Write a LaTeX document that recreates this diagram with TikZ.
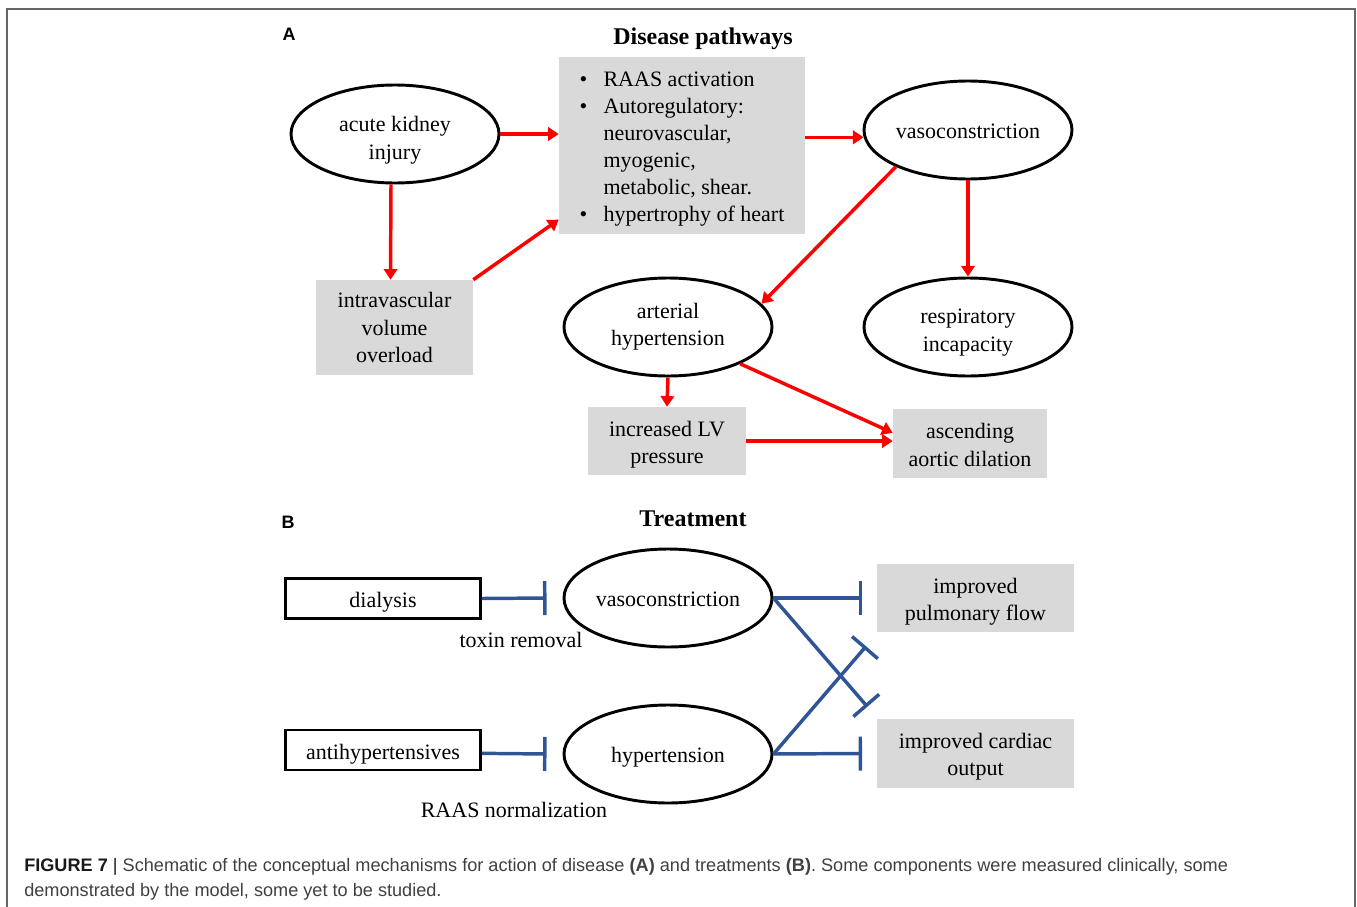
\documentclass[tikz,border=0pt]{standalone}
\usepackage{fontspec}
\setmainfont{Liberation Serif}
\setsansfont{Liberation Sans}
\usetikzlibrary{arrows.meta,shapes.geometric}

\definecolor{boxgray}{HTML}{D9D9D9}
\definecolor{inhblue}{HTML}{2F5597}
\definecolor{capgray}{HTML}{404040}

\begin{document}
\begin{tikzpicture}[
    x=0.75pt, y=-0.75pt,
    every node/.style={font=\fontsize{16.5}{20.5}\selectfont},
    state/.style={ellipse, draw, line width=2.2pt, minimum width=156pt, minimum height=73.5pt, inner sep=0pt, align=center},
    graybox/.style={rectangle, fill=boxgray, inner sep=0pt, align=center},
    drugbox/.style={rectangle, draw, line width=2pt, minimum width=146.25pt, minimum height=30pt, inner sep=0pt},
    title/.style={font=\fontsize{18}{22}\selectfont\bfseries},
    panel/.style={font=\sffamily\fontsize{13.5}{16}\selectfont\bfseries},
    arrow/.style={-{Triangle[length=8pt,width=10pt]}, red, line width=2.6pt},
    inhib/.style={-{Bar[width=25.5pt]}, inhblue, line width=2.6pt},
    caption/.style={anchor=base west, inner sep=0pt, font=\sffamily\fontsize{13.6}{18}\selectfont, text=capgray}
]
\useasboundingbox (0,0) rectangle (1357,907);

% Frame
\draw[line width=1.5pt, black!60] (7,907) |- (1355,8.5) -- (1355,907);

% Panel A: disease pathways
\node[panel] (labA) at (289,34) {A};
\node[title] (titA) at (703,39) {Disease pathways};

\node[state, text height=37.8pt, text depth=0pt] (aki) at (395,134) {acute kidney\\injury};
\node[graybox, minimum width=184.5pt, minimum height=132.75pt, align=left, font=\fontsize{16.5}{20.25}\selectfont, text height=113.8pt, text depth=0pt] (mech) at (682,145.5) {%
    \makebox[18pt][l]{\textbullet}RAAS activation\\
    \makebox[18pt][l]{\textbullet}Autoregulatory:\\
    \hspace*{18pt}neurovascular,\\
    \hspace*{18pt}myogenic,\\
    \hspace*{18pt}metabolic, shear.\\
    \makebox[18pt][l]{\textbullet}hypertrophy of heart};
\node[state, text height=12.8pt] (vaso) at (968,130) {vasoconstriction};
\node[graybox, minimum width=117.75pt, minimum height=71.25pt] (ivo) at (394.5,327.5) {intravascular\\volume\\overload};
\node[state] (art) at (668,327) {arterial\\hypertension};
\node[state, text height=36.3pt, text depth=0pt] (resp) at (968,327) {respiratory\\incapacity};
\node[graybox, minimum width=118.5pt, minimum height=51pt, text height=34pt, text depth=0pt] (lvp) at (667,441) {increased LV\\pressure};
\node[graybox, minimum width=115.5pt, minimum height=51.75pt, text height=34pt, text depth=0pt] (asc) at (970,443.5) {ascending\\aortic dilation};

\draw[arrow] (aki.east) -- (aki.east -| mech.west);
\draw[arrow] (mech.east |- vaso.184) -- (vaso.184);
\draw[arrow] ([xshift=-3pt]aki.south) -- ([xshift=-3pt]ivo.north);
\draw[arrow] (ivo.north east) -- ([yshift=11pt]mech.south west);
\draw[arrow] (vaso.207) -- (art.14);
\draw[arrow] (vaso.south) -- (resp.north);
\draw[arrow] (art.south) -- (lvp.north);
\draw[arrow] (art.333) -- ([yshift=8pt]asc.west);
\draw[arrow] (lvp.east) -- (lvp.east -| asc.west);

% Panel B: treatment
\node[panel] (labB) at (288,522) {B};
\node[title] (titB) at (693,519) {Treatment};

\node[drugbox, text height=17.3pt] (dial) at (383,598.5) {dialysis};
\node[drugbox, text height=17.3pt] (anti) at (383,750) {antihypertensives};
\node[state, text height=12.8pt] (vasoB) at (668,598) {vasoconstriction};
\node[state, text height=15.8pt] (hypB) at (668,754) {hypertension};
\node[graybox, minimum width=147.75pt, minimum height=51pt, text height=34pt, text depth=0pt] (pulm) at (975.5,598) {improved\\pulmonary flow};
\node[graybox, minimum width=147.75pt, minimum height=51.75pt, text height=33.3pt, text depth=0pt] (card) at (975.5,753.5) {improved cardiac\\output};
\node (toxin) at (521,640) {toxin removal};
\node (raas) at (514,810) {RAAS normalization};

\draw[inhib] (dial.east) -- ([xshift=-12pt]vasoB.west);
\draw[inhib] ([yshift=-2.5pt]anti.east) -- ([xshift=-12pt]hypB.west);
\draw[inhib] (vasoB.east) -- ([xshift=-11pt]pulm.west);
\draw[inhib] (vasoB.east) -- ([shift={(-7pt,9pt)}]card.north west);
\draw[inhib] (hypB.east) -- ([shift={(-8pt,-10.5pt)}]pulm.south west);
\draw[inhib] (hypB.east) -- ([xshift=-11pt]card.west);

% Caption
\node[caption] (cap1) at (24,871) {\textcolor{black!90}{\textbf{FIGURE 7} |} Schematic of the conceptual mechanisms for action of disease \textbf{(A)} and treatments \textbf{(B)}. Some components were measured clinically, some};
\node[caption] (cap2) at (24,896) {demonstrated by the model, some yet to be studied.};

\end{tikzpicture}
\end{document}
